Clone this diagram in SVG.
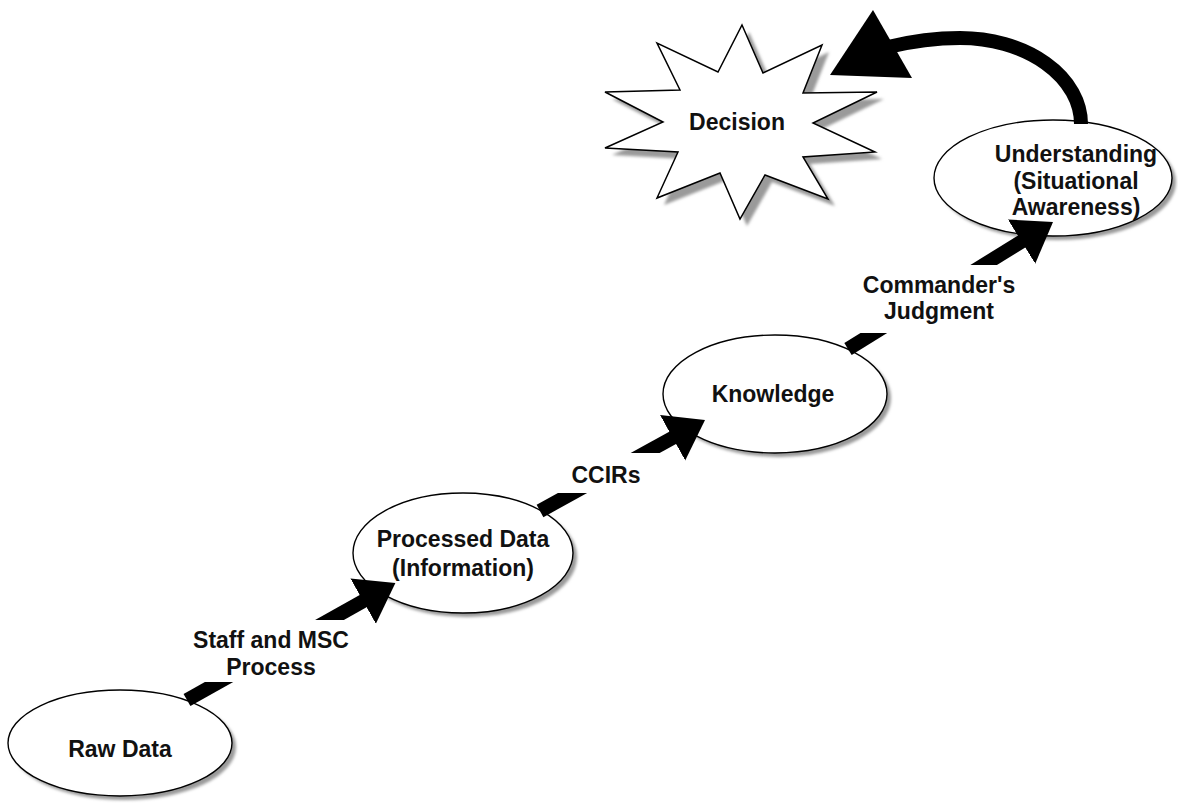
<svg xmlns="http://www.w3.org/2000/svg" width="1178" height="812" viewBox="0 0 1178 812">
<defs>
<filter id="blur" x="-10%" y="-10%" width="120%" height="120%"><feGaussianBlur stdDeviation="1.5"/></filter>
<marker id="head" markerUnits="userSpaceOnUse" markerWidth="40" markerHeight="54" viewBox="0 0 40 54" refX="1" refY="27" orient="auto"><path d="M0,1 L37,27 L0,53 z" fill="#000"/></marker>
</defs>
<style>
.shadow{fill:#9a9a9a;filter:url(#blur)}
.node{fill:#fff;stroke:#000;stroke-width:1.4}
.t{font-family:"Liberation Sans",Arial,Helvetica,sans-serif;font-weight:bold;font-size:23px;fill:#111;text-anchor:middle}
.shaft{stroke:#000;stroke-width:14;fill:none}
.mask{fill:#fff}
</style>
<rect width="1178" height="812" fill="#fff"/>

<g id="raw-data">
<ellipse class="shadow" cx="124" cy="747" rx="112" ry="53"/>
<ellipse class="node" cx="120" cy="743" rx="112" ry="53"/>
<text class="t" x="120" y="757">Raw Data</text>
</g>

<g id="processed-data">
<ellipse class="shadow" cx="467" cy="557" rx="110" ry="60"/>
<ellipse class="node" cx="463" cy="553" rx="110" ry="60"/>
<text class="t" x="463" y="547" font-size="22">Processed Data</text>
<text class="t" x="463" y="576" font-size="22">(Information)</text>
</g>

<g id="knowledge">
<ellipse class="shadow" cx="779" cy="398" rx="112" ry="59"/>
<ellipse class="node" cx="775" cy="394" rx="112" ry="59"/>
<text class="t" x="773" y="402">Knowledge</text>
</g>

<g id="understanding">
<ellipse class="shadow" cx="1057" cy="182" rx="119" ry="58"/>
<ellipse class="node" cx="1053" cy="178" rx="119" ry="58"/>
<text class="t" x="1076" y="162">Understanding</text>
<text class="t" x="1076" y="189">(Situational</text>
<text class="t" x="1076" y="215">Awareness)</text>
</g>

<g id="decision">
<polygon class="shadow" transform="translate(7,7)" points="742,25 763,73 822,45 803,93 877,92 813,123 875,152 803,157 828,199 765,175 740,219 720,173 657,198 678,152 605,148 663,122 605,92 680,90 657,43 718,72"/>
<polygon fill="#fff" stroke="#000" stroke-width="1.5" stroke-linejoin="miter" points="742,25 763,73 822,45 803,93 877,92 813,123 875,152 803,157 828,199 765,175 740,219 720,173 657,198 678,152 605,148 663,122 605,92 680,90 657,43 718,72"/>
<text class="t" x="737" y="130" font-size="26">Decision</text>
</g>

<g id="connectors">
<line class="shaft" x1="187" y1="700" x2="364" y2="600.6" marker-end="url(#head)"/>
<line class="shaft" x1="540" y1="511" x2="673.5" y2="437.3" marker-end="url(#head)"/>
<line class="shaft" x1="848" y1="349" x2="1022.4" y2="241" marker-end="url(#head)"/>
<path class="shaft" stroke-width="15" d="M1081,124 A121,86 0 0 0 960,38 Q925,38 888,47"/>
<polygon points="873,10 912,78 830,75" fill="#000"/>
</g>

<g id="label-staff">
<rect class="mask" x="185" y="620" width="172" height="62"/>
<text class="t" x="271" y="648">Staff and MSC</text>
<text class="t" x="271" y="675">Process</text>
</g>
<g id="label-ccirs">
<rect class="mask" x="555" y="453" width="107" height="40"/>
<text class="t" x="606" y="483">CCIRs</text>
</g>
<g id="label-judgment">
<rect class="mask" x="850" y="265" width="175" height="68"/>
<text class="t" x="939" y="293">Commander's</text>
<text class="t" x="939" y="319">Judgment</text>
</g>
</svg>
